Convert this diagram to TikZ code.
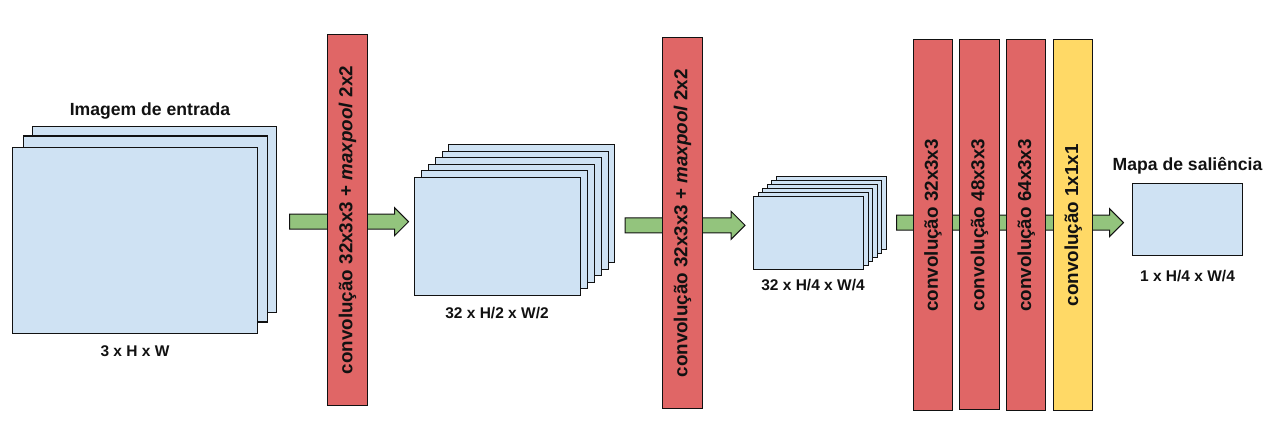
\documentclass[tikz,border=0pt]{standalone}
\usepackage{fontspec}
\setmainfont{Liberation Sans}
\usetikzlibrary{shapes.arrows}
\definecolor{fmblue}{HTML}{CFE2F3}
\definecolor{convred}{HTML}{E06666}
\definecolor{convyel}{HTML}{FFD966}
\definecolor{arrgreen}{HTML}{93C47D}
\definecolor{ink}{HTML}{111111}
\tikzset{
  fmap/.style={draw=ink, fill=fmblue, line width=1.1pt, inner sep=0pt, anchor=north west},
  bar/.style={draw=ink, line width=1.1pt, inner sep=0pt, anchor=north west},
  redbar/.style={bar, fill=convred},
  yelbar/.style={bar, fill=convyel},
  bartext/.style={rotate=90, text=ink, font=\fontsize{18.8}{20}\selectfont\bfseries, inner sep=0pt},
  lbl/.style={text=ink, font=\fontsize{15.5}{18}\selectfont\bfseries, anchor=base, inner sep=0pt},
  ttl/.style={text=ink, font=\fontsize{17.6}{20}\selectfont\bfseries, anchor=base, inner sep=0pt},
  garrow/.style={single arrow, draw=ink, fill=arrgreen, line width=1pt, anchor=west,
    inner xsep=0pt, inner ysep=7pt, single arrow head extend=6.5pt, single arrow head indent=0pt}
}
\begin{document}
\begin{tikzpicture}[x=1pt,y=-1pt]
\useasboundingbox (0,0) rectangle (1277,443);
% arrows (behind bars)
\node[garrow, minimum height=119pt] (a1) at (289,221.7) {};
\node[garrow, minimum height=120pt] (a2) at (624.5,225.3) {};
\node[garrow, minimum height=227pt] (a3) at (896,222.6) {};
% input stack
\node[fmap, minimum width=244pt, minimum height=186pt] (in2) at (32,126) {};
\node[fmap, minimum width=244pt, minimum height=186pt] (in1) at (22.5,135.5) {};
\node[fmap, minimum width=245pt, minimum height=186pt] (in0) at (12,147) {};
\node[ttl] (tin) at (150,115.5) {Imagem de entrada};
\node[lbl] (lin) at (135,356.5) {3 x H x W};
% bar 1
\node[redbar, minimum width=40pt, minimum height=371pt] (b1) at (327,34) {};
\node[bartext] (tb1) at (b1.center) {convolução 32x3x3 + \textit{maxpool} 2x2};
% stack 2
\foreach \i in {5,4,...,0}{
  \node[fmap, minimum width=166pt, minimum height=118pt] (s2\i) at ({414.3+6.8*\i},{176.7-6.5*\i}) {};
}
\node[lbl] (ls2) at (497,318.5) {32 x H/2 x W/2};
% bar 2
\node[redbar, minimum width=39.5pt, minimum height=371pt] (b2) at (662.3,37.3) {};
\node[bartext] (tb2) at (b2.center) {convolução 32x3x3 + \textit{maxpool} 2x2};
% stack 3
\foreach \i in {5,4,...,0}{
  \node[fmap, minimum width=110pt, minimum height=73pt] (s3\i) at ({753.3+4.5*\i},{196-4*\i}) {};
}
\node[lbl] (ls3) at (813,291) {32 x H/4 x W/4};
% conv bars
\node[redbar, minimum width=38.5pt, minimum height=371pt] (c1) at (913.3,39.3) {};
\node[redbar, minimum width=39.5pt, minimum height=370pt] (c2) at (959.3,39.3) {};
\node[redbar, minimum width=39pt, minimum height=371pt] (c3) at (1006.3,39.3) {};
\node[yelbar, minimum width=39pt, minimum height=371pt] (c4) at (1053.3,39.3) {};
\node[bartext] (tc1) at (c1.center) {convolução 32x3x3};
\node[bartext] (tc2) at (c2.center) {convolução 48x3x3};
\node[bartext] (tc3) at (c3.center) {convolução 64x3x3};
\node[bartext] (tc4) at (c4.center) {convolução 1x1x1};
% saliency map
\node[fmap, minimum width=110pt, minimum height=72pt] (sal) at (1132.3,183.3) {};
\node[ttl] (tsal) at (1187.5,171) {Mapa de saliência};
\node[lbl] (lsal) at (1187.5,281.7) {1 x H/4 x W/4};
\end{tikzpicture}
\end{document}
